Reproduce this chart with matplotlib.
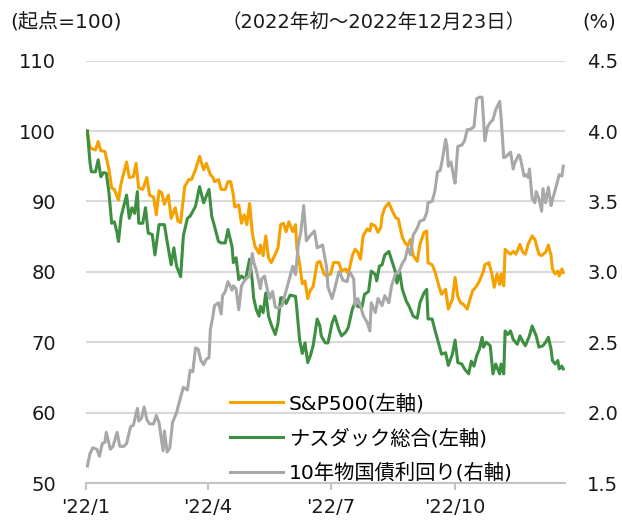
import numpy as np
import matplotlib
matplotlib.use('Agg')
import matplotlib.pyplot as plt
import matplotlib.dates as mdates
from matplotlib.lines import Line2D

plt.rcParams['font.family'] = ['DejaVu Sans', 'Noto Sans CJK JP']
plt.rcParams['font.size'] = 14

# days counted from 2022-01-01
sp_days = [1, 3, 7, 9, 11, 14, 17, 19, 21, 24, 26, 30, 32, 35, 37, 39, 42, 45, 47, 50,
           52, 54, 56, 58, 61, 63, 66, 68, 70, 73, 76, 78, 81, 84, 87, 89, 92, 94,
           95, 98, 100, 103, 105, 107, 109, 110, 113, 115, 117, 119, 121, 123, 125, 128, 129, 131,
           133, 135, 137, 140, 142, 144, 146, 148, 150, 153, 155, 156, 158, 160, 162, 164, 166, 168,
           171, 173, 176, 178, 181, 183,
           187, 189, 192, 194, 197, 199, 201, 203, 205, 208, 210, 211, 214, 216, 218, 219, 221, 224,
           226, 229, 231, 234, 236, 238, 240, 242, 245, 247, 250, 252, 253, 256, 258, 261, 263, 266,
           268, 271, 273,
           275, 277, 279, 282, 284, 286, 289, 291, 294, 295, 298, 300, 302, 304, 306, 307, 309, 310,
           312, 314, 316, 318, 321, 323, 325, 327, 330, 332, 335, 337, 340, 342, 344, 345, 347, 349,
           350, 352, 353]
sp500 = [100, 97.6, 97.3, 98.5, 97.2, 97.1, 94.5, 91.9, 91.7, 90.2, 92.6, 95.6, 93.4, 93.5, 95.4,
         91.9, 91.7, 93.4, 90.9, 90.6, 88.1, 91.5, 91.2, 89.6, 90.9, 87.6, 89.1, 87.2, 87.0, 92.1,
         93.1, 93.1, 94.5, 96.4, 94.5, 95.4, 93.8, 93.4,
         92.8, 93.1, 91.7, 91.7, 92.8, 92.8, 90.9, 89.2, 89.5, 86.9, 88.1, 86.7, 89.7, 85.5, 83.6,
         82.6, 83.8, 82.3, 85.1, 82.0, 81.3, 82.5, 83.4, 86.7, 86.9, 85.7, 87.1, 85.7, 86.7, 83.3,
         81.1, 78.3, 78.7, 76.2, 77.4, 77.9, 81.3, 81.5, 79.7, 79.4, 79.7, 81.3,
         81.3, 80.1, 80.4, 79.7, 82.3, 83.2, 82.8, 81.8, 85.1, 86.1, 85.8, 86.8, 86.5, 85.6, 86.3,
         87.9, 89.1, 89.8, 88.9, 87.7, 87.5, 84.9, 84.1, 83.7, 84.6, 82.3, 81.5, 83.9, 85.6, 85.8,
         81.3, 81.0, 80.1, 78.0, 76.8, 77.5, 74.7, 76.1, 79.2,
         76.5, 75.6, 75.4, 74.7, 76.1, 77.3, 78.0, 78.7, 80.1, 81.0, 81.3, 79.9, 77.8, 79.7, 78.2,
         79.7, 78.0, 83.2, 82.8, 82.5, 82.9, 82.5, 83.9, 82.8, 82.5, 83.9, 85.1, 84.6, 82.5, 82.3,
         82.8, 83.8, 82.3, 80.4, 79.7, 80.1, 79.4, 80.4, 79.9]

nq_days = [1, 3, 4, 7, 9, 11, 13, 15, 17, 19, 21, 23, 24, 26, 30, 32, 34, 36, 38, 39, 42, 44,
           46, 49, 51, 54, 56, 58, 60, 63, 65, 67, 70, 72, 75, 77, 81, 84, 87, 91, 93,
           95, 98, 100, 103, 105, 108, 109, 111, 113, 115, 118, 121, 123, 124, 126, 128, 129, 131,
           133, 135, 137, 140, 142, 144, 146, 148, 151, 155, 156, 158, 160, 162, 164, 166, 168, 171,
           173, 174, 177, 179, 182, 184,
           187, 189, 192, 194, 197, 199, 201, 204, 206, 209, 211, 214, 215, 217, 219, 221, 224, 226,
           229, 230, 232, 234, 237, 239, 242, 245, 247, 250, 252, 253, 256, 258, 261, 263, 266, 268,
           271, 273,
           275, 278, 280, 283, 285, 287, 289, 291, 293, 294, 296, 299, 301, 303, 306, 307, 309, 310,
           312, 314, 316, 319, 321, 323, 325, 328, 330, 333, 335, 338, 340, 342, 344, 345, 347, 349,
           350, 352, 353]
nasdaq = [100, 95.4, 94.2, 94.2, 95.9, 93.5, 94.1, 94.0, 91.2, 86.9, 87.1, 85.5, 84.3, 87.9, 90.9,
          87.6, 89.1, 88.3, 91.4, 86.9, 86.9, 89.1, 85.5, 85.3, 82.4, 86.7, 86.7, 86.7, 84.3, 81.0,
          83.4, 80.8, 79.3, 85.1, 87.6, 87.9, 89.3, 92.1, 89.8, 91.7, 87.9,
          86.5, 84.3, 84.1, 84.1, 86.0, 83.6, 81.3, 82.0, 78.9, 79.4, 78.9, 81.8, 78.7, 76.3, 74.6,
          73.7, 75.1, 74.2, 77.0, 73.7, 72.5, 71.1, 72.7, 76.3, 76.3, 75.5, 76.7, 76.5, 74.6, 70.3,
          68.4, 69.9, 67.1, 68.1, 69.5, 73.3, 72.3, 70.9, 69.9, 69.9, 72.7, 73.7,
          71.8, 70.9, 71.4, 72.1, 74.7, 75.6, 75.1, 74.9, 76.8, 77.2, 80.1, 79.6, 78.7, 80.8, 81.0,
          82.4, 82.9, 81.7, 79.9, 78.4, 79.9, 77.5, 75.8, 75.1, 73.7, 73.4, 75.6, 77.0, 77.5, 73.3,
          73.3, 71.8, 69.7, 68.3, 68.5, 66.7, 68.3, 70.3,
          67.1, 66.9, 66.2, 65.5, 67.3, 66.6, 68.1, 69.0, 70.7, 69.3, 70.0, 69.5, 65.5, 66.9, 65.5,
          66.9, 65.5, 71.6, 71.1, 71.6, 70.4, 69.7, 70.9, 70.1, 69.5, 70.9, 72.3, 70.9, 69.3, 69.5,
          70.0, 70.7, 69.0, 67.4, 66.9, 67.4, 66.2, 66.6, 66.2]

yld_days = [1, 3, 5, 8, 10, 12, 14, 15, 18, 20, 23, 25, 28, 30, 33, 35, 36, 38, 39, 41, 43, 45,
            47, 50, 52, 54, 57, 58, 60, 62, 64, 67, 70, 72, 75, 77, 79, 81, 83, 85, 87, 89, 91, 92, 94,
            95, 98, 100, 101, 103, 105, 108, 109, 111, 113, 115, 118, 121, 123, 124, 126, 129, 130,
            132, 134, 136, 138, 140, 142, 145, 147, 149, 151, 153, 155, 157, 159, 161, 163, 166, 169,
            171, 173, 175, 178, 179, 182, 184,
            187, 188, 190, 193, 195, 198, 199, 201, 203, 205, 208, 210, 211, 214, 216, 219, 221, 224,
            226, 229, 231, 234, 236, 238, 240, 242, 245, 247, 250, 252, 253, 256, 258, 260, 262, 264,
            266, 267, 268, 270, 272, 273,
            275, 278, 280, 282, 284, 287, 289, 291, 293, 294, 295, 297, 299, 301, 303, 304, 306, 307,
            309, 311, 314, 316, 317, 320, 321, 324, 325, 327, 328, 330, 332, 333, 335, 337, 338, 340,
            342, 344, 345, 347, 349, 350, 352, 353]
yield10 = [1.62, 1.71, 1.75, 1.74, 1.69, 1.78, 1.79, 1.86, 1.74, 1.76, 1.86, 1.76, 1.76, 1.78, 1.90,
           1.91, 1.95, 2.03, 1.94, 1.96, 2.04, 1.95, 1.92, 1.92, 1.98, 1.93, 1.73, 1.87, 1.72, 1.75,
           1.93, 2.00, 2.11, 2.18, 2.16, 2.30, 2.29, 2.46, 2.45, 2.37, 2.34, 2.38, 2.39, 2.59, 2.69,
           2.76, 2.78, 2.70, 2.83, 2.86, 2.93, 2.87, 2.90, 2.88, 2.73, 2.90, 2.95, 2.97, 3.13, 3.07,
           3.01, 2.88, 2.95, 2.97, 2.88, 2.81, 2.86, 2.75, 2.74, 2.76, 2.83, 2.90, 2.97, 3.04, 2.98,
           3.19, 3.29, 3.47, 3.22, 3.26, 3.29, 3.17, 3.18, 3.19, 3.03, 2.89, 2.81, 2.88,
           3.00, 2.99, 2.94, 2.93, 3.00, 2.95, 2.76, 2.81, 2.76, 2.69, 2.64, 2.58, 2.78, 2.71, 2.81,
           2.76, 2.83, 2.78, 2.90, 2.99, 2.99, 3.06, 3.09, 3.17, 3.12, 3.26, 3.31, 3.36, 3.37, 3.42,
           3.49, 3.50, 3.57, 3.71, 3.72, 3.82, 3.94, 3.89, 3.75, 3.78, 3.67, 3.63,
           3.89, 3.90, 3.93, 4.01, 4.01, 4.03, 4.23, 4.24, 4.24, 4.08, 3.93, 4.03, 4.06, 4.08, 4.15,
           4.17, 4.21, 4.10, 3.81, 3.82, 3.85, 3.73, 3.77, 3.83, 3.82, 3.68, 3.69, 3.67, 3.73, 3.52,
           3.49, 3.57, 3.52, 3.43, 3.59, 3.49, 3.60, 3.47, 3.51, 3.58, 3.65, 3.69, 3.68, 3.75]

tick_dates = ['2022-01-01', '2022-04-01', '2022-07-01', '2022-10-01']
tick_labels = ["'22/1", "'22/4", "'22/7", "'22/10"]
labels = ['S&P500(左軸)', 'ナスダック総合(左軸)', '10年物国債利回り(右軸)']
colors = ['#f5a100', '#3d8f41', '#a8a8a8']

base = np.datetime64('2022-01-01')


def to_dates(days):
    return base + np.array(days).astype('timedelta64[D]')


fig = plt.figure(figsize=(6.22, 5.25), dpi=100)
ax = fig.add_axes([86 / 622, 1 - 483 / 525, (565 - 86) / 622, (483 - 60.6) / 525])
ax2 = ax.twinx()

ax.plot(to_dates(sp_days), sp500, color=colors[0], lw=2.2, solid_joinstyle='round')
ax.plot(to_dates(nq_days), nasdaq, color=colors[1], lw=2.2, solid_joinstyle='round')
ax2.plot(to_dates(yld_days), yield10, color=colors[2], lw=2.2, solid_joinstyle='round')

x0 = mdates.date2num(base)
ax.set_xlim(x0, x0 + 354.3)
ax.set_ylim(50, 110)
ax.set_yticks(range(50, 111, 10))
ax2.set_ylim(1.5, 4.5)
ax2.set_yticks(np.arange(1.5, 4.51, 0.5))
ax2.set_yticklabels(['%.1f' % v for v in np.arange(1.5, 4.51, 0.5)])

ax.set_xticks([mdates.date2num(np.datetime64(d)) for d in tick_dates])
ax.set_xticklabels(tick_labels)

ax.grid(axis='y', color='#d9d9d9', lw=1.5)
ax.set_axisbelow(True)
for a in (ax, ax2):
    for s in ['top', 'left', 'right', 'bottom']:
        a.spines[s].set_visible(False)
ax.spines['bottom'].set_visible(True)
ax.spines['bottom'].set_color('#c4c4c4')
ax.spines['bottom'].set_linewidth(1.5)

ax.tick_params(axis='y', length=0, pad=21.5, labelsize=14, colors='#1a1a1a')
ax2.tick_params(axis='y', length=0, pad=16, labelsize=14, colors='#1a1a1a')
ax.tick_params(axis='x', length=5, width=1.5, color='#c4c4c4', pad=6, labelsize=14,
               labelcolor='#1a1a1a')

handles = [Line2D([], [], color=c, lw=2.2) for c in colors]
ax2.legend(handles, labels, loc='upper left', bbox_to_anchor=(230 / 622, 1 - 394 / 525),
           bbox_transform=fig.transFigure, frameon=False, fontsize=14.6, borderpad=0,
           borderaxespad=0, handlelength=2.62, handletextpad=0.28, labelspacing=0.74)

fig.text(10 / 622, 1 - 22 / 525, '(起点=100)', fontsize=14.5, va='center', color='#1a1a1a')
fig.text(374 / 622, 1 - 22 / 525, '（2022年初～2022年12月23日）', fontsize=14, va='center',
         ha='center', color='#1a1a1a')
fig.text(582 / 622, 1 - 22 / 525, '(%)', fontsize=14, va='center', color='#1a1a1a')

fig.savefig('out.png', dpi=100)
